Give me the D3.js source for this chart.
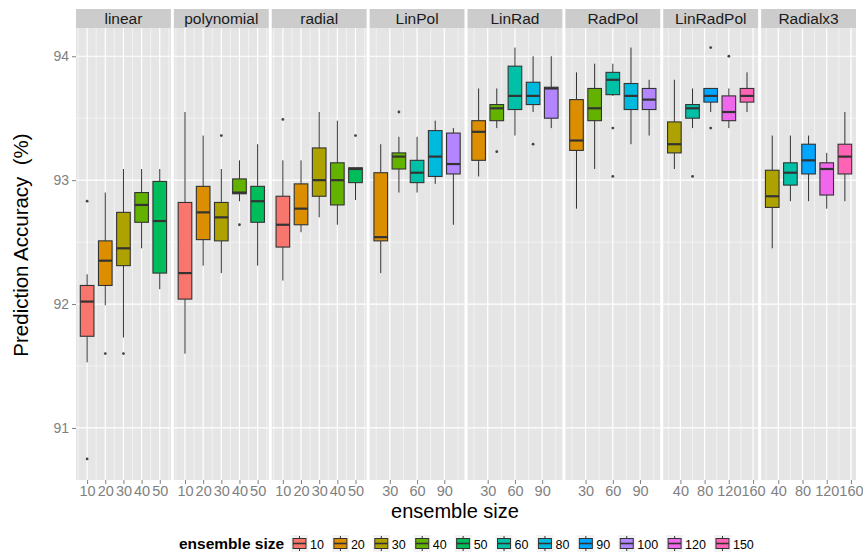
<!DOCTYPE html>
<html><head><meta charset="utf-8">
<script src="https://cdn.jsdelivr.net/npm/d3@7"></script>
<style>
body{margin:0;background:#fff}
text{font-family:"Liberation Sans", Arial, Helvetica, sans-serif}
</style>
</head><body>
<svg id="c" width="863" height="555"></svg>
<script>
// ---------------- data ----------------
const panels = ["linear","polynomial","radial","LinPol","LinRad","RadPol","LinRadPol","Radialx3"];
const sizeLevels = [10,20,30,40,50,60,80,90,100,120,150];
const sizeColors = ["#F8766D","#DB8E00","#AEA200","#64B200","#00BD5C","#00C1A7","#00BADE","#00A6FF","#B385FF","#EF67EB","#FF63B6"];

// [ensemble size, lower whisker, Q1, median, Q3, upper whisker, outliers]
const linearStats = [
  [10, 91.53, 91.74, 92.02, 92.15, 92.24, [92.83, 90.75]],
  [20, 91.99, 92.15, 92.35, 92.51, 92.90, [91.60]],
  [30, 91.73, 92.31, 92.45, 92.74, 93.09, [91.60]],
  [40, 92.45, 92.66, 92.80, 92.90, 93.09, []],
  [50, 92.12, 92.25, 92.67, 92.99, 93.09, []]
];
const polynomialStats = [
  [10, 91.60, 92.04, 92.25, 92.82, 93.55, []],
  [20, 92.31, 92.52, 92.74, 92.95, 93.36, []],
  [30, 92.25, 92.51, 92.70, 92.82, 93.09, [93.36]],
  [40, 92.83, 92.89, 92.90, 93.01, 93.16, [92.64]],
  [50, 92.31, 92.66, 92.83, 92.95, 93.29, []]
];
const radialStats = [
  [10, 92.19, 92.46, 92.64, 92.87, 93.16, [93.49]],
  [20, 92.58, 92.64, 92.77, 92.97, 93.16, []],
  [30, 92.70, 92.87, 93.00, 93.26, 93.55, []],
  [40, 92.64, 92.80, 93.00, 93.14, 93.48, []],
  [50, 92.84, 92.98, 93.09, 93.10, 93.10, [93.36]]
];
const linPolStats = [
  [20, 92.25, 92.51, 92.54, 93.06, 93.29, []],
  [40, 92.90, 93.09, 93.19, 93.22, 93.35, [93.55]],
  [60, 92.90, 92.98, 93.06, 93.16, 93.35, []],
  [80, 92.97, 93.03, 93.19, 93.40, 93.48, []],
  [100, 92.64, 93.05, 93.13, 93.38, 93.42, []]
];
const linRadStats = [
  [20, 93.03, 93.16, 93.39, 93.48, 93.74, []],
  [40, 93.42, 93.48, 93.58, 93.61, 93.74, [93.23]],
  [60, 93.36, 93.57, 93.68, 93.92, 94.07, []],
  [80, 93.55, 93.61, 93.68, 93.79, 94.00, [93.29]],
  [100, 93.42, 93.50, 93.74, 93.75, 94.00, []]
];
const radPolStats = [
  [20, 92.77, 93.24, 93.32, 93.65, 93.87, []],
  [40, 93.09, 93.48, 93.58, 93.74, 93.94, []],
  [60, 93.68, 93.69, 93.81, 93.87, 93.94, [93.42, 93.03]],
  [80, 93.29, 93.57, 93.68, 93.78, 94.07, []],
  [100, 93.36, 93.57, 93.65, 93.74, 93.81, []]
];
const linRadPolStats = [
  [30, 93.09, 93.22, 93.29, 93.47, 93.81, []],
  [60, 93.42, 93.50, 93.58, 93.61, 93.74, [93.03]],
  [90, 93.55, 93.63, 93.68, 93.74, 93.74, [94.07, 93.42]],
  [120, 93.42, 93.48, 93.55, 93.68, 93.74, [94.00]],
  [150, 93.55, 93.63, 93.68, 93.74, 93.87, []]
];
const radialx3Stats = [
  [30, 92.45, 92.78, 92.87, 93.08, 93.36, []],
  [60, 92.83, 92.96, 93.06, 93.14, 93.36, []],
  [90, 92.83, 93.05, 93.16, 93.29, 93.36, []],
  [120, 92.77, 92.88, 93.09, 93.14, 93.22, []],
  [150, 92.83, 93.05, 93.19, 93.29, 93.55, []]
];
const xTicksA = [10,20,30,40,50];
const xTicksB = [30,60,90];
const xTicksC = [40,80,120,160];
const yTicks = [91,92,93,94];
const yLimits = [90.58, 94.228];

const panelStats = [linearStats, polynomialStats, radialStats, linPolStats, linRadStats, radPolStats, linRadPolStats, radialx3Stats];
const panelTicks = [xTicksA, xTicksA, xTicksA, xTicksB, xTicksB, xTicksB, xTicksC, xTicksC];

// ---------------- layout ----------------
const svg = d3.select("#c");
const L = 76, R = 856, T = 28, B = 480, gap = 3, stripTop = 9;
const pw = (R - L - gap * (panels.length - 1)) / panels.length;
const y = d3.scaleLinear().domain(yLimits).range([B, T]);
const color = d3.scaleOrdinal().domain(sizeLevels).range(sizeColors);
const axisGrey = "#7F7F7F", dark = "#333333";

panels.forEach((name, i) => {
  const x0 = L + i * (pw + gap);
  const stats = panelStats[i];
  const xs = stats.map(d => d[0]);
  const res = d3.min(d3.pairs(xs), p => p[1] - p[0]);
  const bw = 0.75 * res;
  const lo = d3.min(xs) - bw / 2, hi = d3.max(xs) + bw / 2;
  const ex = (hi - lo) * 0.05;
  const x = d3.scaleLinear().domain([lo - ex, hi + ex]).range([x0, x0 + pw]);
  const g = svg.append("g");

  // background
  g.append("rect").attr("x", x0).attr("y", T).attr("width", pw).attr("height", B - T).attr("fill", "#E5E5E5");
  // strip
  g.append("rect").attr("x", x0).attr("y", stripTop).attr("width", pw).attr("height", T - stripTop).attr("fill", "#CCCCCC");
  g.append("text").attr("x", x0 + pw / 2).attr("y", 24).attr("text-anchor", "middle")
    .attr("font-size", 15.5).attr("fill", "#1A1A1A").text(name);

  // minor grid
  const ticks = panelTicks[i];
  const step = ticks[1] - ticks[0];
  const xd = x.domain();
  const xMinor = [];
  for (let t = ticks[0] - step / 2; t <= xd[1]; t += step) if (t >= xd[0]) xMinor.push(t);
  const yMinor = yTicks.map(t => t - 0.5).concat([yTicks[yTicks.length - 1] + 0.5]).filter(t => t >= yLimits[0] && t <= yLimits[1]);
  g.selectAll(".vmin").data(xMinor).enter().append("line")
    .attr("x1", d => x(d)).attr("x2", d => x(d)).attr("y1", T).attr("y2", B)
    .attr("stroke", "#F2F2F2").attr("stroke-width", 1);
  g.selectAll(".hmin").data(yMinor).enter().append("line")
    .attr("x1", x0).attr("x2", x0 + pw).attr("y1", d => y(d)).attr("y2", d => y(d))
    .attr("stroke", "#F2F2F2").attr("stroke-width", 1);
  // major grid
  g.selectAll(".vmaj").data(ticks).enter().append("line")
    .attr("x1", d => x(d)).attr("x2", d => x(d)).attr("y1", T).attr("y2", B)
    .attr("stroke", "#FFFFFF").attr("stroke-width", 1.2);
  g.selectAll(".hmaj").data(yTicks).enter().append("line")
    .attr("x1", x0).attr("x2", x0 + pw).attr("y1", d => y(d)).attr("y2", d => y(d))
    .attr("stroke", "#FFFFFF").attr("stroke-width", 1.2);

  // boxes
  stats.forEach(d => {
    const [sz, wlo, q1, med, q3, whi, outs] = d;
    const cx = x(sz), bl = x(sz - bw / 2), br = x(sz + bw / 2);
    g.append("line").attr("x1", cx).attr("x2", cx).attr("y1", y(q3)).attr("y2", y(whi))
      .attr("stroke", dark).attr("stroke-width", 1);
    g.append("line").attr("x1", cx).attr("x2", cx).attr("y1", y(q1)).attr("y2", y(wlo))
      .attr("stroke", dark).attr("stroke-width", 1);
    g.append("rect").attr("x", bl).attr("y", y(q3)).attr("width", br - bl).attr("height", Math.max(0.5, y(q1) - y(q3)))
      .attr("fill", color(sz)).attr("stroke", dark).attr("stroke-width", 1.1);
    g.append("line").attr("x1", bl).attr("x2", br).attr("y1", y(med)).attr("y2", y(med))
      .attr("stroke", dark).attr("stroke-width", 2.2);
    outs.forEach(o => {
      g.append("circle").attr("cx", cx).attr("cy", y(o)).attr("r", 1.4).attr("fill", "#444");
    });
  });

  // x axis
  const ax = svg.append("g").attr("transform", `translate(0,${B})`)
    .call(d3.axisBottom(x).tickValues(ticks).tickSize(4).tickPadding(2).tickFormat(d3.format("d")));
  ax.select(".domain").remove();
  ax.selectAll("line").attr("stroke", axisGrey);
  ax.selectAll("text").attr("fill", axisGrey).attr("font-size", 14.5).attr("font-family", '"Liberation Sans", Arial, sans-serif');
});

// y axis
const ay = svg.append("g").attr("transform", `translate(${L},0)`)
  .call(d3.axisLeft(y).tickValues(yTicks).tickSize(4).tickPadding(3).tickFormat(d3.format("d")));
ay.select(".domain").remove();
ay.selectAll("line").attr("stroke", axisGrey);
ay.selectAll("text").attr("fill", axisGrey).attr("font-size", 14).attr("font-family", '"Liberation Sans", Arial, sans-serif');

// axis titles
svg.append("text").attr("x", 455).attr("y", 518).attr("text-anchor", "middle")
  .attr("font-size", 20).attr("fill", "#000").text("ensemble size");
svg.append("text").attr("transform", `translate(28,245) rotate(-90)`).attr("text-anchor", "middle")
  .attr("font-size", 20.5).attr("fill", "#000").style("white-space", "pre").text("Prediction Accuracy  (%)");

// legend
const lg = svg.append("g");
lg.append("text").attr("x", 179).attr("y", 549).attr("font-size", 15.5).attr("font-weight", "bold").attr("fill", "#000").text("ensemble size");
let lx = 291;
sizeLevels.forEach((s, k) => {
  const kg = lg.append("g").attr("transform", `translate(${lx},535)`);
  kg.append("rect").attr("width", 17).attr("height", 17).attr("fill", "#F2F2F2");
  kg.append("line").attr("x1", 8.5).attr("x2", 8.5).attr("y1", 1).attr("y2", 16).attr("stroke", dark).attr("stroke-width", 1);
  kg.append("rect").attr("x", 2).attr("y", 3.5).attr("width", 13).attr("height", 10).attr("fill", sizeColors[k]).attr("stroke", dark).attr("stroke-width", 1);
  kg.append("line").attr("x1", 2).attr("x2", 15).attr("y1", 8.5).attr("y2", 8.5).attr("stroke", dark).attr("stroke-width", 1.6);
  const t = lg.append("text").attr("x", lx + 19).attr("y", 549).attr("font-size", 12.5).attr("fill", "#000").text(s);
  lx += 19 + t.node().getComputedTextLength() + 8;
});
</script>
</body></html>
